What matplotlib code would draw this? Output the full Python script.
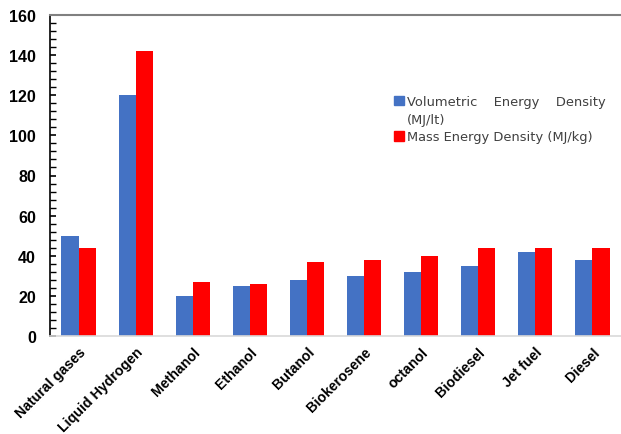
import matplotlib
matplotlib.use("Agg")
import matplotlib.pyplot as plt
import numpy as np
from matplotlib.patches import Patch
from matplotlib.ticker import MultipleLocator

categories = ["Natural gases", "Liquid Hydrogen", "Methanol", "Ethanol", "Butanol",
              "Biokerosene", "octanol", "Biodiesel", "Jet fuel", "Diesel"]
volumetric = [50, 120, 20, 25, 28, 30, 32, 35, 42, 38]
mass = [44, 142, 27, 26, 37, 38, 40, 44, 44, 44]
yticks = [0, 20, 40, 60, 80, 100, 120, 140, 160]

fig = plt.figure(figsize=(6.21, 4.35), dpi=100)
ax = fig.add_axes([50/621, 98/435, 571/621, 321/435])

x = np.arange(len(categories))
w = 0.3
ax.bar(x - w/2, volumetric, w, color="#4472C4", zorder=2)
ax.bar(x + w/2, mass, w, color="#FF0000", zorder=2)

ax.set_xlim(-0.5, 9.5)
ax.set_ylim(0, 160)
ax.set_yticks(yticks)
ax.yaxis.set_minor_locator(MultipleLocator(4))
ax.set_yticklabels([str(t) for t in yticks], fontsize=11.5, fontweight="bold",
                   family="Liberation Sans")
ax.tick_params(axis="y", which="major", direction="in", length=4.5, width=1.2, pad=10)
ax.tick_params(axis="y", which="minor", direction="in", length=4, width=1)
ax.set_xticks(x)
ax.set_xticklabels(categories, rotation=45, ha="right", rotation_mode="anchor",
                   fontsize=10.2, fontweight="bold", family="Liberation Sans")
ax.tick_params(axis="x", length=0, pad=6)

ax.spines["right"].set_visible(False)
ax.spines["top"].set_color("#808080")
ax.spines["top"].set_linewidth(1.5)
ax.spines["bottom"].set_color("#d9d9d9")
ax.spines["bottom"].set_linewidth(1.2)
ax.spines["left"].set_color("black")
ax.spines["left"].set_linewidth(1.2)

handles = [Patch(color="#4472C4"), Patch(color="none"), Patch(color="#FF0000")]
labels = ["Volumetric    Energy    Density", "(MJ/lt)", "Mass Energy Density (MJ/kg)"]
leg = ax.legend(handles, labels, loc="upper left", bbox_to_anchor=(339/571, 1 - 75/321),
                frameon=False, handlelength=0.75, handleheight=0.75, handletextpad=0.2,
                labelspacing=0.35, borderaxespad=0,
                prop={"family": "DejaVu Sans", "size": 9.4})
for t in leg.get_texts():
    t.set_color("#404040")

fig.savefig("out.png", dpi=100)
